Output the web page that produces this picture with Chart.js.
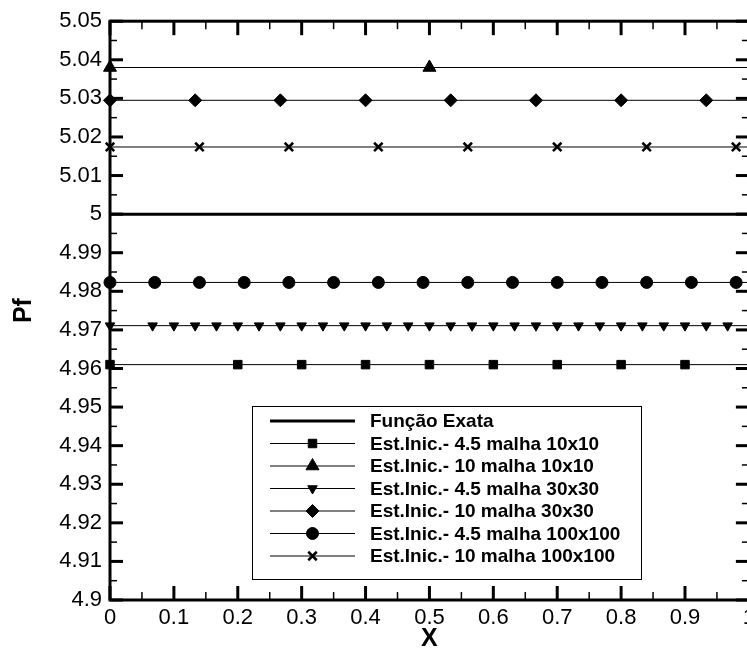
<!DOCTYPE html>
<html>
<head>
<meta charset="utf-8">
<script src="https://cdn.jsdelivr.net/npm/chart.js@4.4.0/dist/chart.umd.min.js"></script>
<style>
html, body { margin: 0; padding: 0; overflow: hidden; background: #fff; }
#wrap { width: 760px; height: 650px; }
</style>
</head>
<body>
<div id="wrap"><canvas id="pfChart"></canvas></div>
<script>
// faixas dos eixos
const xRange = [0, 1];
const yRange = [4.9, 5.05];

// solucao exata
const pfExata = 5;
const xExata = [0];

// estimativas iniciais (valor de Pf e posicoes dos simbolos)
const pfEst45m10 = 4.961;
const xEst45m10 = [0, 0.2, 0.3, 0.4, 0.5, 0.6, 0.7, 0.8, 0.9];

const pfEst10m10 = 5.038;
const xEst10m10 = [0, 0.5];

const pfEst45m30 = 4.9711;
const xEst45m30 = [0, 0.0667, 0.1, 0.1333, 0.1667, 0.2, 0.2333, 0.2667, 0.3, 0.3333,
    0.3667, 0.4, 0.4333, 0.4667, 0.5, 0.5333, 0.5667, 0.6, 0.6333, 0.6667,
    0.7, 0.7333, 0.7667, 0.8, 0.8333, 0.8667, 0.9, 0.9333, 0.9667];

const pfEst10m30 = 5.0295;
const xEst10m30 = [0, 0.1333, 0.2667, 0.4, 0.5333, 0.6667, 0.8, 0.9333];

const pfEst45m100 = 4.9823;
const xEst45m100 = [0, 0.07, 0.14, 0.21, 0.28, 0.35, 0.42, 0.49, 0.56, 0.63, 0.7, 0.77, 0.84, 0.91, 0.98];

const pfEst10m100 = 5.0174;
const xEst10m100 = [0, 0.14, 0.28, 0.42, 0.56, 0.7, 0.84, 0.98];

const fontFamily = '"Liberation Sans", Arial, Helvetica, sans-serif';
Chart.defaults.font.family = fontFamily;
Chart.defaults.color = '#000';

function tickText(v) {
    return String(parseFloat(v.toFixed(3)));
}

// monta uma serie constante; a linha segue ate o fim do eixo X
function serie(label, xs, pf, marker) {
    let pts = xs.map(function (x) { return {x: x, y: pf}; });
    pts.push({x: xRange[1], y: pf});
    let radius = xs.map(function () { return marker.radius; });
    radius.push(0);
    return {
        label: label,
        data: pts,
        borderColor: '#000',
        backgroundColor: '#000',
        borderWidth: marker.lineWidth || 1,
        pointStyle: marker.style,
        pointRotation: marker.rotation || 0,
        pointRadius: radius,
        pointBorderWidth: marker.border || 1,
        pointBackgroundColor: '#000',
        pointBorderColor: '#000',
        markerRadius: marker.radius,
        clip: false
    };
}

// moldura com marcas para dentro nos quatro lados
const frameTicks = {
    id: 'frameTicks',
    beforeDatasetsDraw(chart) {
        const ctx = chart.ctx;
        const a = chart.chartArea;
        const xs = chart.scales.x;
        const ys = chart.scales.y;
        ctx.save();
        ctx.strokeStyle = '#000';
        ctx.lineCap = 'butt';

        function mark(x1, y1, x2, y2, w) {
            ctx.lineWidth = w;
            ctx.beginPath();
            ctx.moveTo(x1, y1);
            ctx.lineTo(x2, y2);
            ctx.stroke();
        }

        const xt = xs.ticks.map(t => t.value);
        xt.forEach(function (v, i) {
            const px = xs.getPixelForValue(v);
            mark(px, a.bottom, px, a.bottom - 14, 3);
            mark(px, a.top, px, a.top + 14, 3);
            if (i < xt.length - 1) {
                const pm = xs.getPixelForValue((v + xt[i + 1]) / 2);
                mark(pm, a.bottom, pm, a.bottom - 8, 1.5);
                mark(pm, a.top, pm, a.top + 8, 1.5);
            }
        });

        const yt = ys.ticks.map(t => t.value);
        yt.forEach(function (v, i) {
            const py = ys.getPixelForValue(v);
            mark(a.left, py, a.left + 13, py, 3);
            mark(a.right, py, a.right - 13, py, 3);
            if (i < yt.length - 1) {
                const pm = ys.getPixelForValue((v + yt[i + 1]) / 2);
                mark(a.left, pm, a.left + 7, pm, 1.5);
                mark(a.right, pm, a.right - 7, pm, 1.5);
            }
        });

        ctx.lineWidth = 3;
        ctx.strokeRect(a.left, a.top, a.right - a.left, a.bottom - a.top);
        ctx.restore();
    }
};

// legenda em caixa dentro da area do grafico
const legendBox = {
    id: 'legendBox',
    afterDraw(chart) {
        const ctx = chart.ctx;
        const box = {left: 252, top: 406, right: 641, bottom: 579};
        ctx.save();
        ctx.fillStyle = '#fff';
        ctx.fillRect(box.left, box.top, box.right - box.left, box.bottom - box.top);
        ctx.strokeStyle = '#000';
        ctx.lineWidth = 1;
        ctx.strokeRect(box.left + 0.5, box.top + 0.5, box.right - box.left, box.bottom - box.top);

        ctx.font = 'bold 19px ' + fontFamily;
        ctx.textBaseline = 'middle';
        ctx.textAlign = 'left';
        chart.data.datasets.forEach(function (ds, i) {
            const y = 421 + i * 22.5;
            ctx.strokeStyle = '#000';
            ctx.fillStyle = '#000';
            ctx.lineWidth = ds.borderWidth;
            ctx.beginPath();
            ctx.moveTo(270, y);
            ctx.lineTo(355, y);
            ctx.stroke();
            if (ds.markerRadius) {
                ctx.lineWidth = ds.pointBorderWidth;
                Chart.helpers.drawPoint(ctx, {
                    pointStyle: ds.pointStyle,
                    rotation: ds.pointRotation,
                    radius: ds.markerRadius,
                    borderWidth: ds.pointBorderWidth
                }, 312.5, y);
            }
            ctx.fillText(ds.label, 370, y + 1);
        });
        ctx.restore();
    }
};

const datasets = [
    serie('Função Exata', xExata, pfExata, {style: 'circle', radius: 0, lineWidth: 3}),
    serie('Est.Inic.- 4.5 malha 10x10', xEst45m10, pfEst45m10, {style: 'rect', radius: 6}),
    serie('Est.Inic.- 10 malha 10x10', xEst10m10, pfEst10m10, {style: 'triangle', radius: 7.5}),
    serie('Est.Inic.- 4.5 malha 30x30', xEst45m30, pfEst45m30, {style: 'triangle', radius: 5.5, rotation: 180}),
    serie('Est.Inic.- 10 malha 30x30', xEst10m30, pfEst10m30, {style: 'rectRot', radius: 6.5}),
    serie('Est.Inic.- 4.5 malha 100x100', xEst45m100, pfEst45m100, {style: 'circle', radius: 6}),
    serie('Est.Inic.- 10 malha 100x100', xEst10m100, pfEst10m100, {style: 'crossRot', radius: 6, border: 2.5})
];

new Chart(document.getElementById('pfChart'), {
    type: 'line',
    data: {datasets: datasets},
    options: {
        responsive: true,
        maintainAspectRatio: false,
        animation: false,
        layout: {padding: {left: 0, right: 10, top: 20, bottom: 0}},
        plugins: {
            legend: {display: false},
            tooltip: {enabled: false}
        },
        scales: {
            x: {
                type: 'linear',
                min: xRange[0],
                max: xRange[1],
                grid: {display: false, drawTicks: false},
                border: {display: false},
                ticks: {
                    stepSize: 0.1,
                    padding: 5,
                    autoSkip: false,
                    maxRotation: 0,
                    font: {size: 22},
                    callback: tickText
                },
                title: {
                    display: true,
                    text: 'X',
                    font: {size: 25, weight: 'bold', lineHeight: 1},
                    padding: {top: 0, bottom: -2}
                },
                afterFit: function (s) { s.height = 50; }
            },
            y: {
                type: 'linear',
                min: yRange[0],
                max: yRange[1],
                grid: {display: false, drawTicks: false},
                border: {display: false},
                ticks: {
                    stepSize: 0.01,
                    padding: 8,
                    autoSkip: false,
                    font: {size: 22},
                    callback: tickText
                },
                title: {
                    display: true,
                    text: 'Pf',
                    font: {size: 25, weight: 'bold'},
                    padding: {top: 9, bottom: 0}
                },
                afterFit: function (s) { s.width = 110; }
            }
        }
    },
    plugins: [frameTicks, legendBox]
});
</script>
</body>
</html>
